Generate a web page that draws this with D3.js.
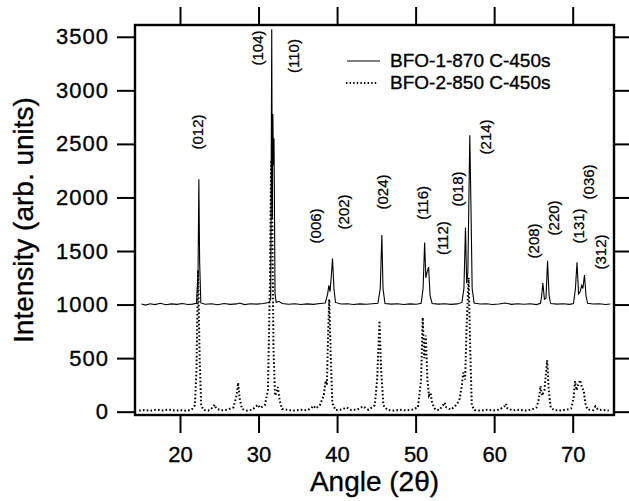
<!DOCTYPE html>
<html>
<head>
<meta charset="utf-8">
<script src="https://cdn.jsdelivr.net/npm/d3@7"></script>
<style>
  body { margin: 0; background: #fff; }
  svg { font-family: "Liberation Sans", Arial, sans-serif; }
  svg text { stroke: #000; stroke-width: 0.35px; }
</style>
</head>
<body>
<svg width="629" height="501"></svg>
<script>
// series: [angle 2theta, intensity]
var bfo1 = [
  [15.1,1005],[15.6,995],[16.2,1008],[16.8,1000],[17.5,1012],[18.2,998],[18.9,1006],[19.6,1002],
  [20.3,1010],[21.0,1000],[21.6,1004],[22.1,1012],[22.3,1300],[22.4,2170],[22.5,1400],[22.65,1015],
  [23.2,1003],[24.0,1008],[24.8,998],[25.6,1010],[26.4,1002],[27.2,1006],[27.6,1015],[28.2,1000],
  [29.0,1007],[29.8,1004],[30.6,1010],[31.3,1020],[31.55,1050],[31.68,3570],[31.76,1800],[31.82,2780],
  [31.9,2300],[31.97,2550],[32.1,1100],[32.25,1020],[32.6,1030],[33.0,1010],[33.8,1003],[34.6,1008],
  [35.4,1000],[36.2,1006],[37.0,1002],[37.8,1010],[38.5,1015],[38.8,1100],[38.95,1180],[39.1,1120],
  [39.25,1250],[39.42,1430],[39.6,1150],[39.8,1020],[40.5,1005],[41.3,1008],[42.1,1000],[42.9,1006],
  [43.7,1003],[44.5,1008],[45.2,1012],[45.5,1150],[45.7,1650],[45.85,1150],[46.1,1010],[46.9,1004],
  [47.7,1008],[48.5,1000],[49.3,1006],[50.1,1003],[50.7,1012],[50.95,1150],[51.15,1580],[51.3,1250],
  [51.45,1300],[51.65,1350],[51.85,1080],[52.1,1010],[52.9,1004],[53.7,1008],[54.5,1002],[55.3,1006],
  [55.9,1020],[56.15,1150],[56.35,1720],[56.5,1200],[56.65,1300],[56.9,2580],[57.05,1900],[57.2,1150],
  [57.45,1015],[58.2,1005],[59.0,1008],[59.8,1000],[60.6,1006],[61.4,1015],[62.2,1002],[63.0,1007],
  [63.8,1003],[64.6,1008],[65.4,1000],[65.9,1012],[66.05,1080],[66.2,1200],[66.4,1050],[66.6,1060],
  [66.8,1410],[67.0,1080],[67.2,1010],[68.0,1004],[68.8,1008],[69.6,1002],[70.1,1010],[70.35,1150],
  [70.55,1395],[70.75,1100],[70.95,1120],[71.15,1180],[71.3,1150],[71.5,1275],[71.7,1080],[71.9,1012],
  [72.6,1005],[73.4,1008],[74.2,1000],[74.8,1005]
];

var bfo2 = [
  [14.8,10],[15.5,15],[16.2,8],[17.0,18],[17.8,12],[18.5,20],[19.3,10],[20.0,15],[20.8,8],[21.5,20],
  [21.9,60],[22.1,400],[22.3,1320],[22.5,500],[22.7,60],[23.0,15],[23.6,10],[24.2,40],[24.4,65],[24.6,30],
  [25.2,12],[26.0,18],[26.8,40],[27.2,150],[27.4,270],[27.6,120],[27.9,25],[28.5,10],[29.2,18],[29.7,50],
  [29.9,65],[30.2,35],[30.8,60],[31.2,200],[31.45,1200],[31.6,2350],[31.75,1800],[31.9,600],[32.1,150],
  [32.3,180],[32.45,230],[32.7,100],[33.0,25],[33.8,15],[34.6,10],[35.4,18],[36.2,12],[36.8,40],[37.0,55],
  [37.3,30],[37.8,60],[38.3,150],[38.55,290],[38.7,250],[38.85,700],[39.0,1050],[39.2,500],[39.4,80],
  [39.8,15],[40.6,20],[41.2,40],[41.8,15],[42.6,20],[43.3,50],[44.0,18],[44.8,60],[45.1,300],[45.4,850],
  [45.6,400],[45.9,60],[46.4,15],[47.2,10],[48.0,18],[48.8,12],[49.6,20],[50.3,40],[50.7,300],[50.9,880],
  [51.1,500],[51.3,710],[51.5,300],[51.7,150],[51.9,175],[52.1,80],[52.5,20],[53.0,15],[53.5,60],[53.7,85],
  [53.9,40],[54.5,20],[55.0,50],[55.3,75],[55.6,120],[55.9,250],[56.05,365],[56.3,300],[56.5,800],
  [56.75,1250],[56.95,600],[57.15,60],[57.5,15],[58.3,10],[59.1,18],[59.9,12],[60.7,20],[61.3,50],
  [61.5,75],[61.7,30],[62.4,12],[63.2,18],[64.0,10],[64.8,20],[65.4,40],[65.7,120],[65.9,240],[66.1,150],
  [66.4,200],[66.75,480],[66.95,200],[67.2,40],[67.6,15],[68.4,12],[69.2,18],[69.8,30],[70.1,120],
  [70.3,285],[70.5,200],[70.7,250],[70.95,295],[71.2,220],[71.4,200],[71.6,80],[71.9,20],[72.6,15],
  [72.9,50],[73.2,20],[73.9,15],[74.6,10]
];

var seriesNames = ["BFO-1-870 C-450s", "BFO-2-850 C-450s"];

// peak index labels, placed in data coords (angle, intensity)
var peakLabels = ["(012)","(104)","(110)","(006)","(202)","(024)","(116)","(112)","(018)","(214)","(208)","(220)","(131)","(036)","(312)"];
var peakAngles = [22.29,29.81,34.39,37.2,40.76,45.73,50.83,53.38,55.29,58.85,64.97,67.52,70.7,71.97,73.5];
var peakHeights = [2611,3395,3320,1734,1865,2051,1949,1620,2079,2565,1594,1809,1734,2145,1491];

var xTicks = [20,30,40,50,60,70];
var yTicks = [0,500,1000,1500,2000,2500,3000,3500];

var svg = d3.select("svg");
var L = 135, R = 614, T = 25, B = 415;

var x = d3.scaleLinear().domain([14.27, 75.26]).range([L, R]);
var y = d3.scaleLinear().domain([-31, 3610]).range([B, T]);

// axes
var tick = 18;
function styleAxis(g) {
  g.select(".domain").remove();
  g.selectAll(".tick line").attr("stroke", "#000").attr("stroke-width", 2);
  g.selectAll(".tick text").attr("fill", "#000").style("font-size", "22px");
}

svg.append("g").attr("transform", "translate(0," + B + ")")
  .call(d3.axisBottom(x).tickValues(xTicks).tickSize(tick).tickPadding(13).tickFormat(d3.format("d")))
  .call(styleAxis);

svg.append("g").attr("transform", "translate(0," + T + ")")
  .call(d3.axisTop(x).tickValues(xTicks).tickSize(tick).tickFormat(""))
  .call(styleAxis);

svg.append("g").attr("transform", "translate(" + L + ",0)")
  .call(d3.axisLeft(y).tickValues(yTicks).tickSize(tick).tickPadding(8).tickFormat(d3.format("d")))
  .call(styleAxis)
  .selectAll(".tick text").style("letter-spacing", "1px");

svg.append("g").attr("transform", "translate(" + R + ",0)")
  .call(d3.axisRight(y).tickValues(yTicks).tickSize(tick).tickFormat(""))
  .call(styleAxis);

// frame
svg.append("rect")
  .attr("x", L).attr("y", T).attr("width", R - L).attr("height", B - T)
  .attr("fill", "none").attr("stroke", "#000").attr("stroke-width", 2.4);

// data lines
var line = d3.line().x(d => x(d[0])).y(d => y(d[1]));

svg.append("path").datum(bfo2)
  .attr("d", line)
  .attr("fill", "none").attr("stroke", "#000")
  .attr("stroke-width", 2).attr("stroke-dasharray", "1.6,2.2");

svg.append("path").datum(bfo1)
  .attr("d", line)
  .attr("fill", "none").attr("stroke", "#000")
  .attr("stroke-width", 1.1);

// peak labels
svg.append("g").selectAll("text")
  .data(peakLabels)
  .enter().append("text")
  .attr("transform", (d, i) => "translate(" + x(peakAngles[i]) + "," + y(peakHeights[i]) + ") rotate(-90)")
  .attr("text-anchor", "middle")
  .attr("dominant-baseline", "central")
  .style("font-size", "15px")
  .style("stroke-width", "0.25px")
  .text(d => d);

// legend
var leg = svg.append("g");
leg.append("line").attr("x1", 347).attr("x2", 380).attr("y1", 61).attr("y2", 61)
  .attr("stroke", "#000").attr("stroke-width", 1.1);
leg.append("line").attr("x1", 346).attr("x2", 378).attr("y1", 83).attr("y2", 83)
  .attr("stroke", "#000").attr("stroke-width", 2).attr("stroke-dasharray", "1.4,2.2");
leg.selectAll("text").data(seriesNames).enter().append("text")
  .attr("x", 390).attr("y", (d, i) => 67 + i * 21.5)
  .style("font-size", "19px")
  .text(d => d);

// axis titles
svg.append("text")
  .attr("x", (L + R) / 2).attr("y", 491)
  .attr("text-anchor", "middle")
  .style("font-size", "28px")
  .text("Angle (2θ)");

svg.append("text")
  .attr("transform", "translate(33," + ((T + B) / 2) + ") rotate(-90)")
  .attr("text-anchor", "middle")
  .style("font-size", "28px")
  .text("Intensity (arb. units)");
</script>
</body>
</html>
